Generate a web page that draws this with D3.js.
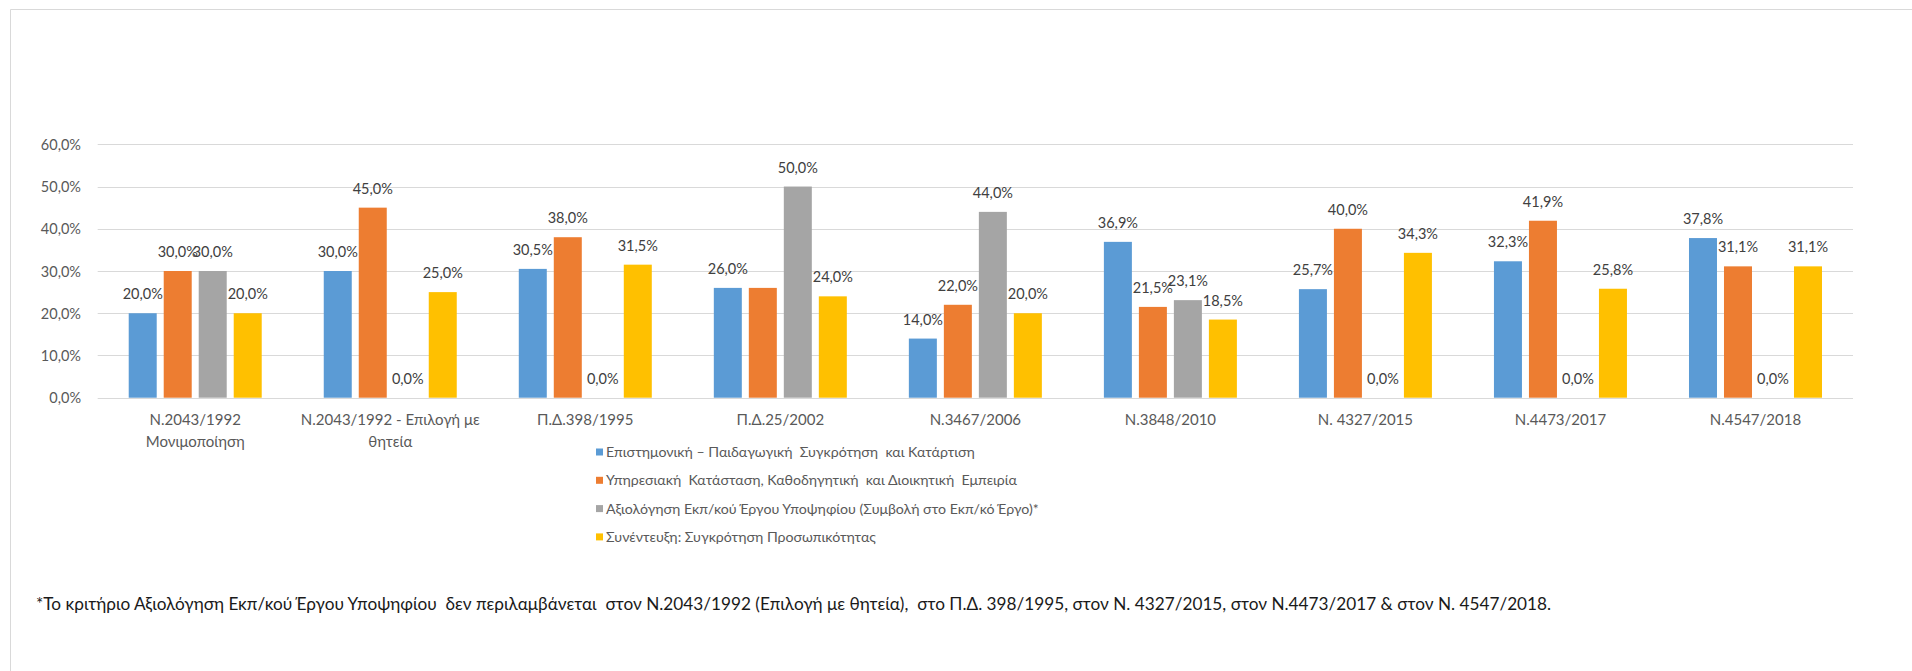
<!DOCTYPE html>
<html>
<head>
<meta charset="utf-8">
<script src="https://cdn.jsdelivr.net/npm/d3@7"></script>
<style>
  html, body { margin: 0; padding: 0; background: #fff; }
  svg { display: block; }
  .narrow { font-family: Lato, "Liberation Sans", sans-serif; }
  .num { font-family: Lato, "Liberation Sans", sans-serif; }
</style>
</head>
<body>
<svg id="chart" width="1912" height="671"></svg>
<script>
const categories = [
  ["Ν.2043/1992", "Μονιμοποίηση"],
  ["Ν.2043/1992 - Επιλογή με", "θητεία"],
  ["Π.Δ.398/1995"],
  ["Π.Δ.25/2002"],
  ["Ν.3467/2006"],
  ["Ν.3848/2010"],
  ["Ν. 4327/2015"],
  ["Ν.4473/2017"],
  ["Ν.4547/2018"]
];
const seriesNames = [
  "Επιστημονική – Παιδαγωγική  Συγκρότηση  και Κατάρτιση",
  "Υπηρεσιακή  Κατάσταση, Καθοδηγητική  και Διοικητική  Εμπειρία",
  "Αξιολόγηση Εκπ/κού Έργου Υποψηφίου (Συμβολή στο Εκπ/κό Έργο)*",
  "Συνέντευξη: Συγκρότηση Προσωπικότητας"
];
const seriesColors = ["#5B9BD5", "#ED7D31", "#A5A5A5", "#FFC000"];
const scientific = [20.0, 30.0, 30.5, 26.0, 14.0, 36.9, 25.7, 32.3, 37.8];
const service    = [30.0, 45.0, 38.0, 26.0, 22.0, 21.5, 40.0, 41.9, 31.1];
const evaluation = [30.0, 0.0, 0.0, 50.0, 44.0, 23.1, 0.0, 0.0, 0.0];
const interview  = [20.0, 25.0, 31.5, 24.0, 20.0, 18.5, 34.3, 25.8, 31.1];
const yTicks = [0, 10, 20, 30, 40, 50, 60];
const hiddenLabels = [[1, 3]]; // [series, category] label not shown in the original
const footnote = "*Το κριτήριο Αξιολόγηση Εκπ/κού Έργου Υποψηφίου  δεν περιλαμβάνεται  στον Ν.2043/1992 (Επιλογή με θητεία),  στο Π.Δ. 398/1995, στον Ν. 4327/2015, στον Ν.4473/2017 & στον Ν. 4547/2018.";

const series = [scientific, service, evaluation, interview];
const fmt = v => d3.format(".1f")(v).replace(".", ",") + "%";

const svg = d3.select("#chart");

// frame
svg.append("path")
  .attr("d", "M10.5,671 L10.5,9.5 L1912,9.5")
  .attr("fill", "none").attr("stroke", "#d9d9d9").attr("stroke-width", 1);

const plotL = 97.7, plotR = 1853, plotT = 144.3, plotB = 397.7;
const x0 = d3.scaleBand().domain(d3.range(categories.length)).range([plotL, plotR]).padding(0);
const x1 = d3.scaleBand().domain(d3.range(series.length)).range([-70, 70]).paddingInner(0.2).paddingOuter(0.1);
const y = d3.scaleLinear().domain([0, 60]).range([plotB, plotT]);

// gridlines
svg.append("g").selectAll("line").data(yTicks).join("line")
  .attr("x1", plotL).attr("x2", plotR)
  .attr("y1", d => Math.round(y(d)) + 0.5).attr("y2", d => Math.round(y(d)) + 0.5)
  .attr("stroke", "#d9d9d9").attr("stroke-width", 1);

// y axis labels
const yAxis = d3.axisLeft(y).tickValues(yTicks).tickFormat(fmt).tickSize(0).tickPadding(0);
const yg = svg.append("g").attr("transform", `translate(81,0)`).call(yAxis);
yg.select(".domain").remove();
yg.attr("font-family", null).attr("font-size", null);
yg.selectAll("text").attr("class", "num").attr("font-size", 14.5).attr("fill", "#595959").attr("dy", "0.35em");

// bars
const cx = i => x0(i) + x0.bandwidth() / 2;
const gBars = svg.append("g");
series.forEach((vals, s) => {
  gBars.append("g").selectAll("rect").data(vals).join("rect")
    .attr("x", (d, i) => cx(i) + x1(s))
    .attr("width", x1.bandwidth())
    .attr("y", d => y(d))
    .attr("height", d => plotB - y(d))
    .attr("fill", seriesColors[s]);
});

// data labels
const hidden = new Set(hiddenLabels.map(d => d.join("-")));
series.forEach((vals, s) => {
  gBars.append("g").selectAll("text").data(vals.map((v, i) => ({v, i})).filter(d => !hidden.has(s + "-" + d.i))).join("text")
    .attr("class", "num")
    .attr("x", d => cx(d.i) + x1(s) + x1.bandwidth() / 2)
    .attr("y", d => y(d.v) - 14)
    .attr("text-anchor", "middle")
    .attr("font-size", 14.5)
    .attr("fill", "#404040")
    .text(d => fmt(d.v));
});

// x axis labels
const xg = svg.append("g");
categories.forEach((lines, i) => {
  const t = xg.append("text").attr("class", "narrow").attr("text-anchor", "middle")
    .attr("font-size", 15).attr("fill", "#595959");
  lines.forEach((ln, k) => {
    t.append("tspan").attr("x", cx(i)).attr("y", 425 + k * 22).text(ln);
  });
});

// legend
const lg = svg.append("g");
seriesNames.forEach((name, s) => {
  const yy = 452 + s * 28.3;
  lg.append("rect").attr("x", 596).attr("y", yy - 3.5).attr("width", 7).attr("height", 7).attr("fill", seriesColors[s]);
  lg.append("text").attr("class", "narrow").attr("x", 606).attr("y", yy + 5)
    .attr("font-size", 14.2).attr("fill", "#595959").style("white-space", "pre").text(name);
});

// footnote
svg.append("text").attr("class", "narrow").attr("x", 36).attr("y", 610)
  .attr("font-size", 17.2).attr("fill", "#1a1a1a").style("white-space", "pre").text(footnote);
</script>
</body>
</html>
